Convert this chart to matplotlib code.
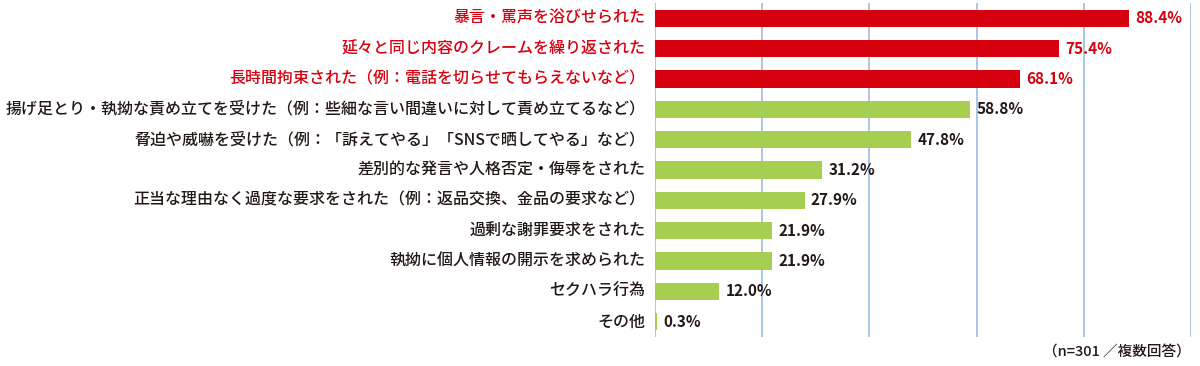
import matplotlib
matplotlib.use("Agg")
import matplotlib.pyplot as plt

plt.rcParams['font.family'] = ['Noto Sans CJK JP', 'DejaVu Sans']

categories = [
    "暴言・罵声を浴びせられた",
    "延々と同じ内容のクレームを繰り返された",
    "長時間拘束された（例：電話を切らせてもらえないなど）",
    "揚げ足とり・執拗な責め立てを受けた（例：些細な言い間違いに対して責め立てるなど）",
    "脅迫や威嚇を受けた（例：「訴えてやる」「SNSで晒してやる」など）",
    "差別的な発言や人格否定・侮辱をされた",
    "正当な理由なく過度な要求をされた（例：返品交換、金品の要求など）",
    "過剰な謝罪要求をされた",
    "執拗に個人情報の開示を求められた",
    "セクハラ行為",
    "その他",
]
values = [88.4, 75.4, 68.1, 58.8, 47.8, 31.2, 27.9, 21.9, 21.9, 12.0, 0.3]
highlight = [True, True, True, False, False, False, False, False, False, False, False]

RED = "#D7000F"
GREEN = "#A6CE50"
DARK = "#231815"
GRID = "#9DBEE3"

fig = plt.figure(figsize=(12, 3.66), dpi=100)
ax = fig.add_axes([655/1200, 1-337/366, (1191-655)/1200, (337-3)/366])

n = len(categories)
ys = list(range(n))
colors = [RED if h else GREEN for h in highlight]
ax.barh(ys, values, height=0.57, color=colors, zorder=3)
ax.set_xlim(0, 100)
ax.set_ylim(n - 0.5, -0.5)

for x in [0, 20, 40, 60, 80, 100]:
    ax.axvline(x, color=GRID, lw=1.2, zorder=1)

for y, v, h in zip(ys, values, highlight):
    ax.text(v + 1.2, y, f"{v:.1f}%", va="center", ha="left", fontsize=11,
            fontweight="bold", color=RED if h else DARK, zorder=4)

for y, c, h in zip(ys, categories, highlight):
    ax.text(-1.8, y, c, va="center", ha="right", fontsize=11.5,
            fontweight="medium", color=RED if h else DARK)

for s in ax.spines.values():
    s.set_visible(False)
ax.set_xticks([])
ax.set_yticks([])

fig.text(1191/1200, 1-352/366, "（n=301 ／複数回答）", ha="right", va="center",
         fontsize=10.5, fontweight="medium", color=DARK)

fig.savefig("out.png", dpi=100)
